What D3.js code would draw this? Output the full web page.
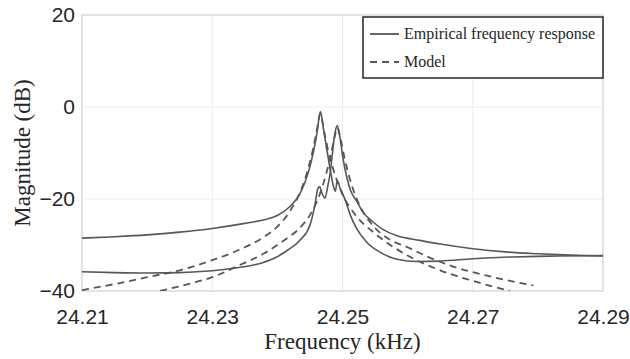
<!DOCTYPE html>
<html>
<head>
<meta charset="utf-8">
<script src="https://cdn.jsdelivr.net/npm/d3@7"></script>
<style>
  body { margin: 0; background: #fff; }
  .tick text { font-family: "Liberation Sans", Arial, sans-serif; font-size: 21px; fill: #262626; }
</style>
</head>
<body>
<div id="chart"></div>
<script>
//Tick values
var xTicks = [24.21, 24.23, 24.25, 24.27, 24.29];
var yTicks = [20, 0, -20, -40];

//Empirical response, mode whose main peak is at ~24.2466 kHz  [kHz, dB]
var empiricalA = [
  [24.2100, -28.5], [24.2150, -28.2], [24.2200, -27.8], [24.2250, -27.2],
  [24.2300, -26.4], [24.2350, -25.3], [24.2380, -24.5], [24.2400, -23.6],
  [24.2418, -21.8], [24.2435, -18.8], [24.2448, -14.0], [24.2455, -10.0],
  [24.2461, -5.5], [24.2466, -1.0], [24.2471, -5.0], [24.2476, -9.3],
  [24.2481, -13.5], [24.2486, -17.2], [24.2489, -18.3], [24.2492, -16.0],
  [24.2496, -17.5], [24.2505, -20.5], [24.2512, -23.5], [24.2522, -26.5],
  [24.2538, -29.5], [24.2558, -31.6], [24.2584, -33.1], [24.2615, -33.6],
  [24.2650, -33.5], [24.2700, -33.0], [24.2760, -32.6], [24.2830, -32.4],
  [24.2900, -32.3]
];

//Empirical response, mode whose main peak is at ~24.2492 kHz
var empiricalB = [
  [24.2100, -35.8], [24.2150, -36.0], [24.2200, -36.1], [24.2250, -36.0],
  [24.2300, -35.6], [24.2335, -35.0], [24.2376, -33.9], [24.2395, -32.9],
  [24.2415, -31.2], [24.2435, -28.9], [24.2450, -25.7], [24.2458, -21.0],
  [24.2462, -17.8], [24.2465, -17.3], [24.2468, -18.5], [24.2473, -19.8],
  [24.2477, -17.5], [24.2481, -14.4], [24.2485, -9.5], [24.2488, -6.0],
  [24.2492, -4.1], [24.2496, -6.5], [24.2500, -10.5], [24.2507, -15.5],
  [24.2512, -18.0], [24.2522, -20.5], [24.2531, -22.8], [24.2547, -25.0],
  [24.2562, -26.6], [24.2584, -28.0], [24.2619, -29.0], [24.2650, -29.8],
  [24.2700, -30.8], [24.2750, -31.5], [24.2800, -31.9], [24.2850, -32.2],
  [24.2900, -32.4]
];

//Model for mode A
var modelA = [
  [24.2100, -39.8], [24.2150, -38.5], [24.2200, -37.0], [24.2250, -35.5],
  [24.2300, -33.3], [24.2350, -30.5], [24.2380, -28.2], [24.2400, -26.0],
  [24.2420, -22.5], [24.2435, -18.5], [24.2445, -14.5], [24.2455, -9.0],
  [24.2460, -5.5], [24.2466, -1.5], [24.2472, -5.5], [24.2478, -9.5],
  [24.2488, -14.5], [24.2500, -19.0], [24.2520, -23.5], [24.2550, -27.5],
  [24.2600, -32.3], [24.2650, -35.5], [24.2700, -37.8], [24.2757, -40.0]
];

//Model for mode B
var modelB = [
  [24.2220, -40.0], [24.2260, -38.6], [24.2300, -37.0], [24.2340, -34.5],
  [24.2380, -31.8], [24.2410, -29.0], [24.2435, -26.2], [24.2450, -23.5],
  [24.2465, -19.0], [24.2475, -14.5], [24.2482, -10.5], [24.2488, -6.5],
  [24.2492, -4.5], [24.2497, -7.0], [24.2503, -11.0], [24.2512, -16.0],
  [24.2525, -21.0], [24.2545, -25.5], [24.2570, -28.6], [24.2600, -30.5],
  [24.2630, -32.5], [24.2670, -34.7], [24.2720, -36.6], [24.2793, -38.8]
];

var legendLabels = ["Empirical frequency response", "Model"];

var margin = {top: 15, right: 27, bottom: 68, left: 82},
  width = 630 - margin.left - margin.right,
  height = 359 - margin.top - margin.bottom;

var lineColor = "#575757";
var serif = "'Liberation Serif', 'DejaVu Serif', serif";

var svg = d3.select("#chart")
   .append("svg")
   .attr("width", width + margin.left + margin.right)
   .attr("height", height + margin.top + margin.bottom)
   .append("g")
   .attr("transform", "translate(" + margin.left + "," + margin.top + ")");

var x = d3.scaleLinear().domain([24.21, 24.29]).range([0, width]);
var y = d3.scaleLinear().domain([-40, 20]).range([height, 0]);

//Grid lines
svg.selectAll(".xgrid")
   .data(xTicks)
   .enter().append("line")
   .attr("x1", function(d) { return x(d); })
   .attr("x2", function(d) { return x(d); })
   .attr("y1", 0)
   .attr("y2", height)
   .style("stroke", "#ececec")
   .style("stroke-width", 1);
svg.selectAll(".ygrid")
   .data(yTicks)
   .enter().append("line")
   .attr("x1", 0)
   .attr("x2", width)
   .attr("y1", function(d) { return y(d); })
   .attr("y2", function(d) { return y(d); })
   .style("stroke", "#ececec")
   .style("stroke-width", 1);

//Axes, MATLAB-ish light gray box
svg.append("g")
   .attr("transform", "translate(0," + height + ")")
   .call(d3.axisBottom(x).tickValues(xTicks).tickFormat(d3.format(".2f"))
     .tickSize(0).tickPadding(18));
svg.append("g")
   .call(d3.axisLeft(y).tickValues(yTicks).tickFormat(d3.format("d"))
     .tickSize(0).tickPadding(7));
svg.selectAll(".domain").remove();

svg.append("rect")
   .attr("x", 0)
   .attr("y", 0)
   .attr("width", width)
   .attr("height", height)
   .style("fill", "none")
   .style("stroke", "#cfcfcf")
   .style("stroke-width", 1);

//Clip curves to plot area
svg.append("clipPath")
   .attr("id", "clip")
   .append("rect")
   .attr("width", width)
   .attr("height", height);

var line = d3.line()
   .x(function(d) { return x(d[0]); })
   .y(function(d) { return y(d[1]); })
   .curve(d3.curveMonotoneX);

var plot = svg.append("g").attr("clip-path", "url(#clip)");

[modelA, modelB].forEach(function(series) {
  plot.append("path")
     .datum(series)
     .attr("d", line)
     .style("fill", "none")
     .style("stroke", lineColor)
     .style("stroke-width", 1.8)
     .style("stroke-dasharray", "7,5");
});
[empiricalA, empiricalB].forEach(function(series) {
  plot.append("path")
     .datum(series)
     .attr("d", line)
     .style("fill", "none")
     .style("stroke", lineColor)
     .style("stroke-width", 1.6);
});

//Axis labels
svg.append("text")
   .attr("x", width / 2)
   .attr("y", height + 58)
   .attr("text-anchor", "middle")
   .style("font-family", serif)
   .style("font-size", "23px")
   .style("fill", "#262626")
   .text("Frequency (kHz)");
svg.append("text")
   .attr("transform", "translate(" + (-52) + "," + (height / 2) + ") rotate(-90)")
   .attr("text-anchor", "middle")
   .style("font-family", serif)
   .style("font-size", "23px")
   .style("fill", "#262626")
   .text("Magnitude (dB)");

//Legend
var legendBox = {x: 363 - margin.left, y: 17 - margin.top, w: 240, h: 61};
var gLegend = svg.append("g");
gLegend.append("rect")
   .attr("x", legendBox.x)
   .attr("y", legendBox.y)
   .attr("width", legendBox.w)
   .attr("height", legendBox.h)
   .style("fill", "#fff")
   .style("stroke", "#262626")
   .style("stroke-width", 1.5);
legendLabels.forEach(function(label, i) {
  var ly = legendBox.y + 17 + i * 28;
  gLegend.append("line")
     .attr("x1", legendBox.x + 7)
     .attr("x2", legendBox.x + 36)
     .attr("y1", ly)
     .attr("y2", ly)
     .style("stroke", lineColor)
     .style("stroke-width", 1.8)
     .style("stroke-dasharray", i == 1 ? "7,5" : null);
  gLegend.append("text")
     .attr("x", legendBox.x + 41)
     .attr("y", ly)
     .attr("dy", "0.33em")
     .style("font-family", serif)
     .style("font-size", "16px")
     .style("fill", "#262626")
     .text(label);
});
</script>
</body>
</html>
